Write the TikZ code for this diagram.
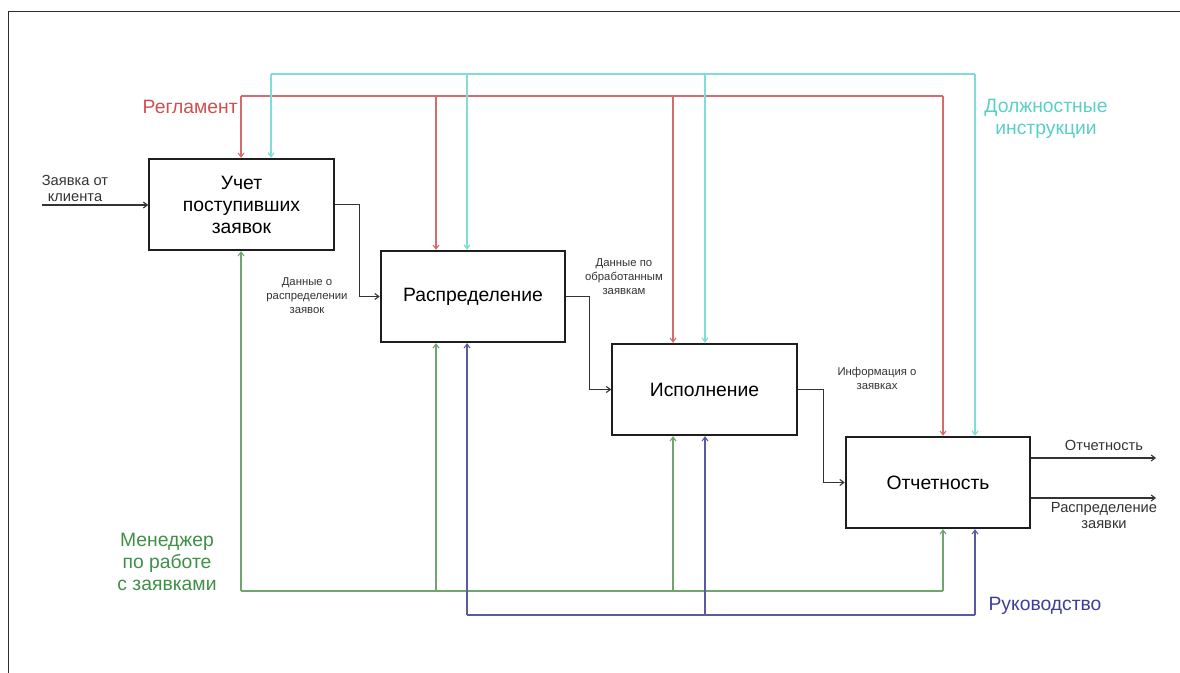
\documentclass[tikz,border=0pt]{standalone}
\usepackage{fontspec}
\setmainfont{Liberation Sans}
\usetikzlibrary{arrows.meta}

\definecolor{framegray}{HTML}{2E2E2E}
\definecolor{boxline}{HTML}{1E1E1E}
\definecolor{flowgray}{HTML}{333333}
\definecolor{regline}{HTML}{D46C6C}
\definecolor{regtext}{HTML}{D04E4E}
\definecolor{insline}{HTML}{7FDDD6}
\definecolor{instext}{HTML}{5ACFC6}
\definecolor{mgrline}{HTML}{6EA66E}
\definecolor{mgrtext}{HTML}{3F8F47}
\definecolor{bossline}{HTML}{5A5AA2}
\definecolor{bosstext}{HTML}{3E3E98}

\tikzset{
  process/.style={draw=boxline, line width=1.5pt, fill=white,
    minimum width=138.5pt, minimum height=68.5pt, inner sep=0pt,
    align=center, font=\fontsize{14.5}{16.5}\selectfont},
  tip/.style={-{Straight Barb[length=3pt,width=4.5pt]}},
  flow/.style={tip, draw=flowgray, line width=0.8pt},
  ctlred/.style={draw=regline, line width=0.8pt},
  ctlcyan/.style={draw=insline, line width=0.9pt},
  mechgreen/.style={draw=mgrline, line width=0.8pt},
  mechblue/.style={draw=bossline, line width=0.8pt},
  smalllabel/.style={align=center, inner sep=0pt, text=flowgray,
    font=\fontsize{8.5}{10.5}\selectfont},
  sidelabel/.style={align=center, inner sep=0pt, text=flowgray,
    font=\fontsize{11}{12}\selectfont},
  biglabel/.style={align=center, inner sep=0pt,
    font=\fontsize{14.5}{16.5}\selectfont}
}

\begin{document}
\begin{tikzpicture}[x=0.75pt, y=-0.75pt]
  \useasboundingbox (0,0) rectangle (1180,673);

  % page frame
  \draw[framegray, line width=1.2pt] (8.5,673) -- (8.5,11.5) -- (1180,11.5);

  % function blocks
  \node[process] (b1) at (241.5,204.5) {Учет\\поступивших\\заявок};
  \node[process] (b2) at (473,296.5) {Распределение};
  \node[process] (b3) at (704.5,389.5) {Исполнение};
  \node[process] (b4) at (938,482.5) {Отчетность};

  % anchor points of the control and mechanism buses
  \coordinate (r1) at (241,96);
  \coordinate (r2) at (436,96);
  \coordinate (r3) at (673,96);
  \coordinate (r4) at (943,96);
  \coordinate (c1) at (271,74);
  \coordinate (c2) at (467,74);
  \coordinate (c3) at (705,74);
  \coordinate (c4) at (975,74);
  \coordinate (g1) at (241,591);
  \coordinate (g2) at (436,591);
  \coordinate (g3) at (673,591);
  \coordinate (g4) at (943,591);
  \coordinate (u2) at (467,615);
  \coordinate (u3) at (705,615);
  \coordinate (u4) at (975,615);

  % control: Регламент
  \draw[ctlred] (r1) -- (r4);
  \draw[ctlred, tip] (r1) -- (r1 |- b1.north);
  \draw[ctlred, tip] (r2) -- (r2 |- b2.north);
  \draw[ctlred, tip] (r3) -- (r3 |- b3.north);
  \draw[ctlred, tip] (r4) -- (r4 |- b4.north);

  % control: Должностные инструкции
  \draw[ctlcyan] (c1) -- (c4);
  \draw[ctlcyan, tip] (c1) -- (c1 |- b1.north);
  \draw[ctlcyan, tip] (c2) -- (c2 |- b2.north);
  \draw[ctlcyan, tip] (c3) -- (c3 |- b3.north);
  \draw[ctlcyan, tip] (c4) -- (c4 |- b4.north);

  % mechanism: Менеджер по работе с заявками
  \draw[mechgreen] (g1) -- (g4);
  \draw[mechgreen, tip] (g1) -- (g1 |- b1.south);
  \draw[mechgreen, tip] (g2) -- (g2 |- b2.south);
  \draw[mechgreen, tip] (g3) -- (g3 |- b3.south);
  \draw[mechgreen, tip] (g4) -- (g4 |- b4.south);

  % mechanism: Руководство
  \draw[mechblue] (u2) -- (u4);
  \draw[mechblue, tip] (u2) -- (u2 |- b2.south);
  \draw[mechblue, tip] (u3) -- (u3 |- b3.south);
  \draw[mechblue, tip] (u4) -- (u4 |- b4.south);

  % input
  \coordinate (in0) at (42,205);
  \draw[flow] (in0) -- (in0 -| b1.west);
  \node[sidelabel] (inlbl) at (75,188) {Заявка от\\клиента};

  % flows between blocks
  \draw[flow] (b1.east) -- ++(25,0) |- (b2.west);
  \draw[flow] (b2.east) -- ++(23,0) |- (b3.west);
  \draw[flow] (b3.east) -- ++(26,0) |- (b4.west);
  \node[smalllabel] (f1) at (307,296) {Данные о\\распределении\\заявок};
  \node[smalllabel] (f2) at (624,277) {Данные по\\обработанным\\заявкам};
  \node[smalllabel] (f3) at (877,378.5) {Информация о\\заявках};

  % outputs
  \coordinate (o1) at (1156,458);
  \coordinate (o2) at (1156,498);
  \draw[flow] (o1 -| b4.east) -- (o1);
  \draw[flow] (o2 -| b4.east) -- (o2);
  \node[sidelabel] (out1) at (1104,445) {Отчетность};
  \node[sidelabel] (out2) at (1104,515.5) {Распределение\\заявки};

  % bus labels
  \node[biglabel, text=regtext, anchor=east] (lreg) at (238,107) {Регламент};
  \node[biglabel, text=instext] (lins) at (1046,119) {Должностные\\инструкции};
  \node[biglabel, text=mgrtext] (lmgr) at (167,562) {Менеджер\\по работе\\с заявками};
  \node[biglabel, text=bosstext] (lboss) at (1045,606) {Руководство};
\end{tikzpicture}
\end{document}
